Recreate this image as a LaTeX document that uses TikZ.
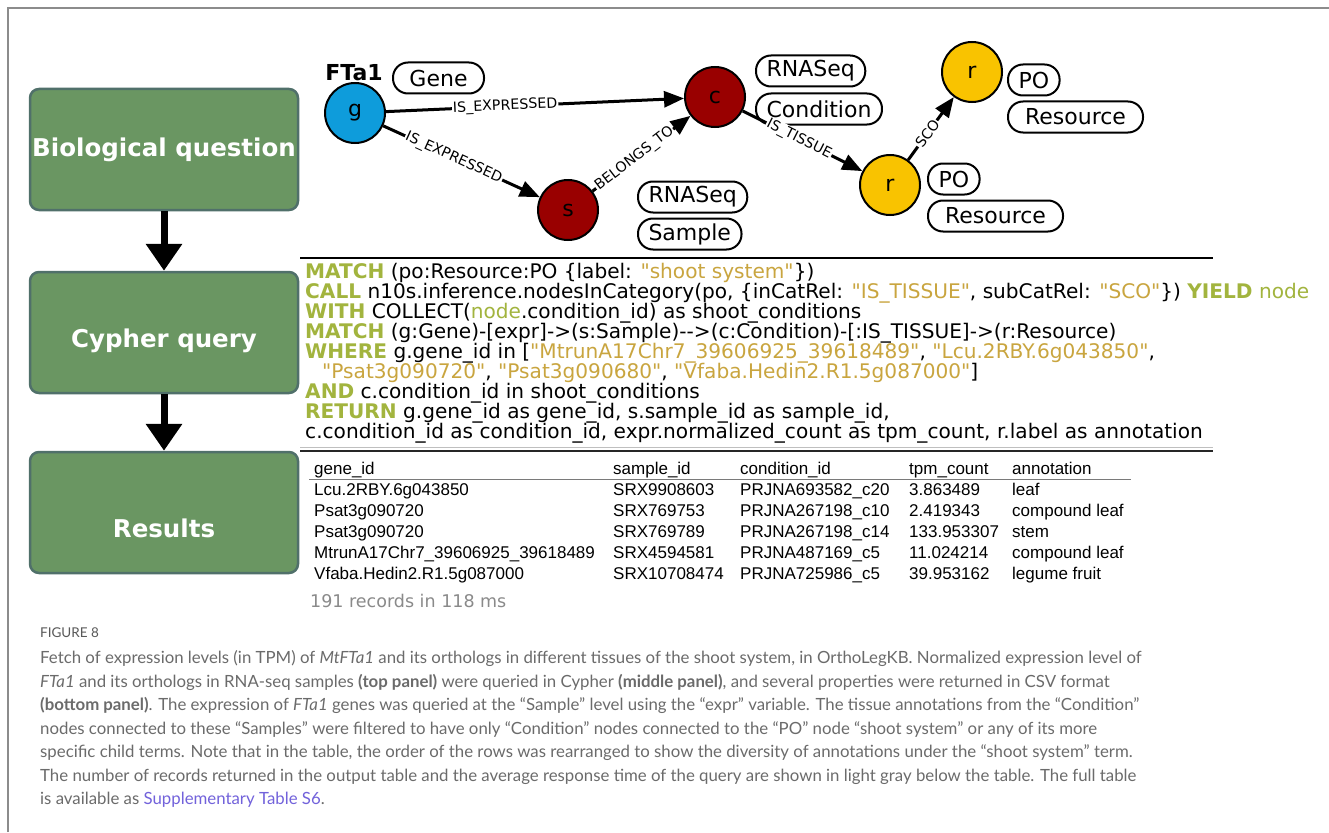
\documentclass[tikz,border=0pt]{standalone}
\usepackage{fontspec}
\setmainfont{DejaVu Sans}[Ligatures=TeXOff]
\newfontfamily\tabfont{Liberation Sans}
\newfontfamily\capfont{Lato}
\usetikzlibrary{arrows.meta}

\definecolor{framegray}{HTML}{8C8C8C}
\definecolor{boxgreen}{HTML}{6A9662}
\definecolor{boxedge}{HTML}{50706A}
\definecolor{geneblue}{HTML}{0E9CDB}
\definecolor{darkred}{HTML}{990000}
\definecolor{poyellow}{HTML}{F9C300}
\definecolor{kwgreen}{HTML}{A2B43E}
\definecolor{strgold}{HTML}{C9A53F}
\definecolor{capgray}{HTML}{6B6B6B}
\definecolor{linkblue}{HTML}{7262DB}
\definecolor{recgray}{HTML}{8A8A8A}
\definecolor{rulegray}{HTML}{7A7A7A}

\newcommand{\kw}[1]{\textcolor{kwgreen}{\bfseries #1}}
\newcommand{\kv}[1]{\textcolor{kwgreen}{#1}}
\newcommand{\st}[1]{\textcolor{strgold}{#1}}

\begin{document}
\begin{tikzpicture}[x=1pt,y=-1pt,
  stage/.style={rounded corners=9pt, fill=boxgreen, draw=boxedge, line width=2.5pt,
    minimum width=268pt, minimum height=121pt, inner sep=0pt},
  stagetext/.style={text=white, font=\fontsize{24.5}{28}\selectfont\bfseries},
  flowarrow/.style={line width=7pt, -{Triangle[length=27pt,width=35pt]}},
  ent/.style={circle, draw=black, line width=2pt, minimum size=60pt, inner sep=0pt,
    font=\fontsize{22}{24}\selectfont},
  tag/.style={draw=black, line width=2pt, rounded corners=15pt, fill=white,
    minimum height=31pt, inner xsep=10.5pt, inner ysep=0pt, anchor=west,
    font=\fontsize{22}{24}\selectfont},
  rel/.style={line width=3pt, -{Triangle[length=20pt,width=16pt]}},
  rellabel/.style={sloped, fill=white, inner sep=1pt, font=\fontsize{14.2}{15}\selectfont},
  qline/.style={anchor=base west, inner sep=0pt, font=\fontsize{20.1}{20}\selectfont},
  cell/.style={anchor=base west, inner sep=0pt, font=\tabfont\fontsize{17}{20}\selectfont},
  capline/.style={anchor=base west, inner sep=0pt, text=capgray,
    font=\capfont\fontsize{16.8}{20}\selectfont}]

\useasboundingbox (0,0) rectangle (1329,832);
\fill[white] (0,0) rectangle (1329,832);
\draw[framegray, line width=2pt] (8,832) -- (8,8) -- (1329,8);

% workflow stages on the left
\node[stage] (bio) at (164,149.5) {};
\node[stagetext] (biotext) at (164,150) {Biological question};
\node[stage] (cyp) at (164,332.5) {};
\node[stagetext] (cyptext) at (164,341) {Cypher query};
\node[stage] (res) at (164,512.5) {};
\node[stagetext] (restext) at (164,528) {Results};
\draw[flowarrow] (bio.south) -- (cyp.north);
\draw[flowarrow] (cyp.south) -- (res.north);

% graph pattern of the query
\node[ent, fill=geneblue] (g) at (355,113) {g};
\node[ent, fill=darkred] (s) at (568,210) {s};
\node[ent, fill=darkred] (c) at (715,97) {c};
\node[ent, fill=poyellow] (r) at (890,185) {r};
\node[ent, fill=poyellow] (rp) at (972,72) {r};

\node[font=\fontsize{22}{24}\selectfont\bfseries, inner sep=0pt] (fta) at (354,73) {FTa1};
\node[tag, minimum width=91pt] (tgene) at (392,78) {Gene};
\node[tag] (tcrna) at (755,71) {RNASeq};
\node[tag] (tcond) at (755,109) {Condition};
\node[tag] (tsrna) at (637,197) {RNASeq};
\node[tag] (tsamp) at (637,234) {Sample};
\node[tag] (trpo) at (927,179) {PO};
\node[tag, minimum width=135pt] (trres) at (927,216) {Resource};
\node[tag] (tppo) at (1007,80) {PO};
\node[tag, minimum width=135pt] (tpres) at (1007,117) {Resource};

\draw[rel] (g) -- node[rellabel, pos=0.4] {IS\_EXPRESSED} (c);
\draw[rel] (g) -- node[rellabel, pos=0.45] {IS\_EXPRESSED} (s);
\draw[rel] (s) -- node[rellabel, pos=0.43] {BELONGS\_TO} (c);
\draw[rel] (c) -- node[rellabel, pos=0.47] {IS\_TISSUE} (r);
\draw[rel] (r) -- node[rellabel, pos=0.42] {SCO} (rp);

% Cypher query
\coordinate (qa) at (300,258);
\coordinate (qb) at (1213,258);
\draw[line width=2pt] (qa) -- (qb);
\node[qline] (q1) at (305,278) {\kw{MATCH} (po:Resource:PO \{label: \st{"shoot system"}\})};
\node[qline] (q2) at (305,298.1) {\kw{CALL} n10s.inference.nodesInCategory(po, \{inCatRel: \st{"IS\_TISSUE"}, subCatRel: \st{"SCO"}\}) \kw{YIELD} \kv{node}};
\node[qline] (q3) at (305,318.2) {\kw{WITH} COLLECT(\kv{node}.condition\_id) as shoot\_conditions};
\node[qline] (q4) at (305,338.3) {\kw{MATCH} (g:Gene)-[expr]->(s:Sample)-->(c:Condition)-[:IS\_TISSUE]->(r:Resource)};
\node[qline] (q5) at (305,358.4) {\kw{WHERE} g.gene\_id in [\st{"MtrunA17Chr7\_39606925\_39618489"}, \st{"Lcu.2RBY.6g043850"},};
\node[qline] (q6) at (322,378.5) {\st{"Psat3g090720"}, \st{"Psat3g090680"}, \st{"Vfaba.Hedin2.R1.5g087000"}]};
\node[qline] (q7) at (305,398.6) {\kw{AND} c.condition\_id in shoot\_conditions};
\node[qline] (q8) at (305,418.7) {\kw{RETURN} g.gene\_id as gene\_id, s.sample\_id as sample\_id,};
\node[qline] (q9) at (305,438.8) {c.condition\_id as condition\_id, expr.normalized\_count as tpm\_count, r.label as annotation};
\coordinate (qc) at (300,447.5);
\coordinate (qd) at (1213,447.5);
\draw[line width=1pt, black!25] (qc) -- (qd);
\coordinate (ta) at (300,451);
\coordinate (tb) at (1213,451);
\draw[line width=2pt, black!85] (ta) -- (tb);

% result table
\node[cell] (h1) at (314,474) {gene\_id};
\node[cell] (h2) at (613,474) {sample\_id};
\node[cell] (h3) at (740,474) {condition\_id};
\node[cell] (h4) at (909,474) {tpm\_count};
\node[cell] (h5) at (1012,474) {annotation};
\coordinate (ua) at (309,479.5);
\coordinate (ub) at (1131,479.5);
\draw[line width=1.5pt, rulegray] (ua) -- (ub);
\foreach \yy/\ca/\cb/\cc/\cd/\ce [count=\i] in {
  495/Lcu.2RBY.6g043850/SRX9908603/PRJNA693582\_c20/3.863489/leaf,
  516/Psat3g090720/SRX769753/PRJNA267198\_c10/2.419343/compound leaf,
  537/Psat3g090720/SRX769789/PRJNA267198\_c14/133.953307/stem,
  558/MtrunA17Chr7\_39606925\_39618489/SRX4594581/PRJNA487169\_c5/11.024214/compound leaf,
  579/Vfaba.Hedin2.R1.5g087000/SRX10708474/PRJNA725986\_c5/39.953162/legume fruit}{
  \node[cell] (row\i-a) at (314,\yy) {\ca};
  \node[cell] (row\i-b) at (613,\yy) {\cb};
  \node[cell] (row\i-c) at (740,\yy) {\cc};
  \node[cell] (row\i-d) at (909,\yy) {\cd};
  \node[cell] (row\i-e) at (1012,\yy) {\ce};
}
\node[anchor=base west, inner sep=0pt, text=recgray, font=\fontsize{17.5}{20}\selectfont] (recs) at (310,607) {191 records in 118 ms};

% caption
\node[anchor=base west, inner sep=0pt, text=black!65, font=\capfont\fontsize{13.5}{15}\selectfont] (fig) at (40,637) {FIGURE 8};
\node[capline] (c1) at (40,663.5) {Fetch of expression levels (in TPM) of \textit{MtFTa1} and its orthologs in different tissues of the shoot system, in OrthoLegKB. Normalized expression level of};
\node[capline] (c2) at (40,687) {\textit{FTa1} and its orthologs in RNA-seq samples \textbf{(top panel)} were queried in Cypher \textbf{(middle panel)}, and several properties were returned in CSV format};
\node[capline] (c3) at (40,710.5) {\textbf{(bottom panel)}. The expression of \textit{FTa1} genes was queried at the “Sample” level using the “expr” variable. The tissue annotations from the “Condition”};
\node[capline] (c4) at (40,734) {nodes connected to these “Samples” were filtered to have only “Condition” nodes connected to the “PO” node “shoot system” or any of its more};
\node[capline] (c5) at (40,757.5) {specific child terms. Note that in the table, the order of the rows was rearranged to show the diversity of annotations under the “shoot system” term.};
\node[capline] (c6) at (40,781) {The number of records returned in the output table and the average response time of the query are shown in light gray below the table. The full table};
\node[capline] (c7) at (40,804.5) {is available as \textcolor{linkblue}{Supplementary Table S6}.};
\end{tikzpicture}
\end{document}
